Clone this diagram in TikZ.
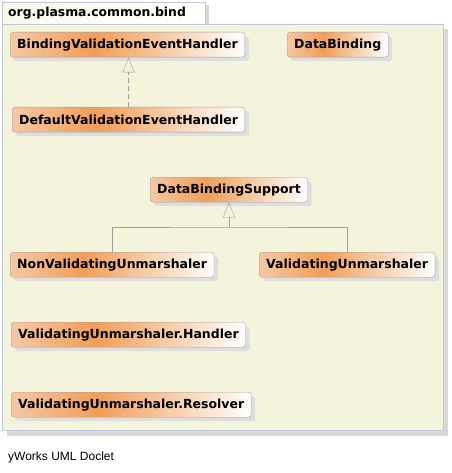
\documentclass[tikz,border=0pt]{standalone}
\usepackage{fontspec}
\setmainfont{Liberation Sans}
\newfontfamily\clsfont{DejaVu Sans}
\usetikzlibrary{arrows.meta,shadows}
\definecolor{pkgfill}{RGB}{244,244,220}
\definecolor{pkgline}{RGB}{192,198,218}
\definecolor{clsline}{RGB}{160,160,160}
\definecolor{clsorange}{RGB}{240,158,90}
\definecolor{clslight}{RGB}{245,200,165}
\definecolor{edgegray}{RGB}{160,160,160}
\pgfdeclarehorizontalshading{clsshade}{100bp}{color(0bp)=(clslight); color(25bp)=(clslight); color(43bp)=(clsorange); color(75bp)=(white); color(100bp)=(white)}
\tikzset{
  cls/.style = {
    draw=clsline, rounded corners=3pt, anchor=north west,
    shading=clsshade,
    minimum height=25pt, inner xsep=7pt, inner ysep=0pt,
    font=\clsfont\fontsize{12.5}{15}\selectfont\bfseries,
    drop shadow={shadow xshift=4pt, shadow yshift=-4pt, fill=black!13, opacity=1}
  },
  gen/.style = {draw=edgegray, -{Triangle[open,width=12pt,length=15pt]}},
  link/.style = {draw=edgegray}
}
\begin{document}
\begin{tikzpicture}[x=1pt,y=-1pt]
  \useasboundingbox (0,0) rectangle (451,473);
  % package
  \fill[black!15] (7,29) rectangle (448,436);
  \fill[black!15] (7,5) rectangle (209,29);
  \draw[pkgline,left color=pkgfill!60,right color=white] (2,2) rectangle (205,24);
  \draw[pkgline,fill=pkgfill] (2,24) rectangle (443,430);
  \node[anchor=west,inner sep=0pt,font=\clsfont\fontsize{12.4}{15}\selectfont\bfseries] (pkg) at (8,13) {org.plasma.common.bind};
  % classes
  \node[cls] (bveh) at (10,32)  {BindingValidationEventHandler};
  \node[cls] (db)   at (287,32) {DataBinding};
  \node[cls] (dveh) at (12,107) {DefaultValidationEventHandler};
  \node[cls] (dbs)  at (150,177) {DataBindingSupport};
  \node[cls] (nvu)  at (10,252) {NonValidatingUnmarshaler};
  \node[cls] (vu)   at (259,252) {ValidatingUnmarshaler};
  \node[cls] (vuh)  at (11,322) {ValidatingUnmarshaler.Handler};
  \node[cls] (vur)  at (11,392) {ValidatingUnmarshaler.Resolver};
  % relations
  \draw[gen,dash pattern=on 5pt off 3pt] (dveh.north) -- (dveh.north |- bveh.south);
  \coordinate (join) at (dbs.south |- 0,227);
  \draw[link] (nvu.north) |- (join) -| (vu.north);
  \draw[gen] (join) -- (dbs.south);
  % footer
  \node[anchor=west,inner sep=0pt,font=\fontsize{12}{14}\selectfont] (doclet) at (8,457) {yWorks UML Doclet};
\end{tikzpicture}
\end{document}
